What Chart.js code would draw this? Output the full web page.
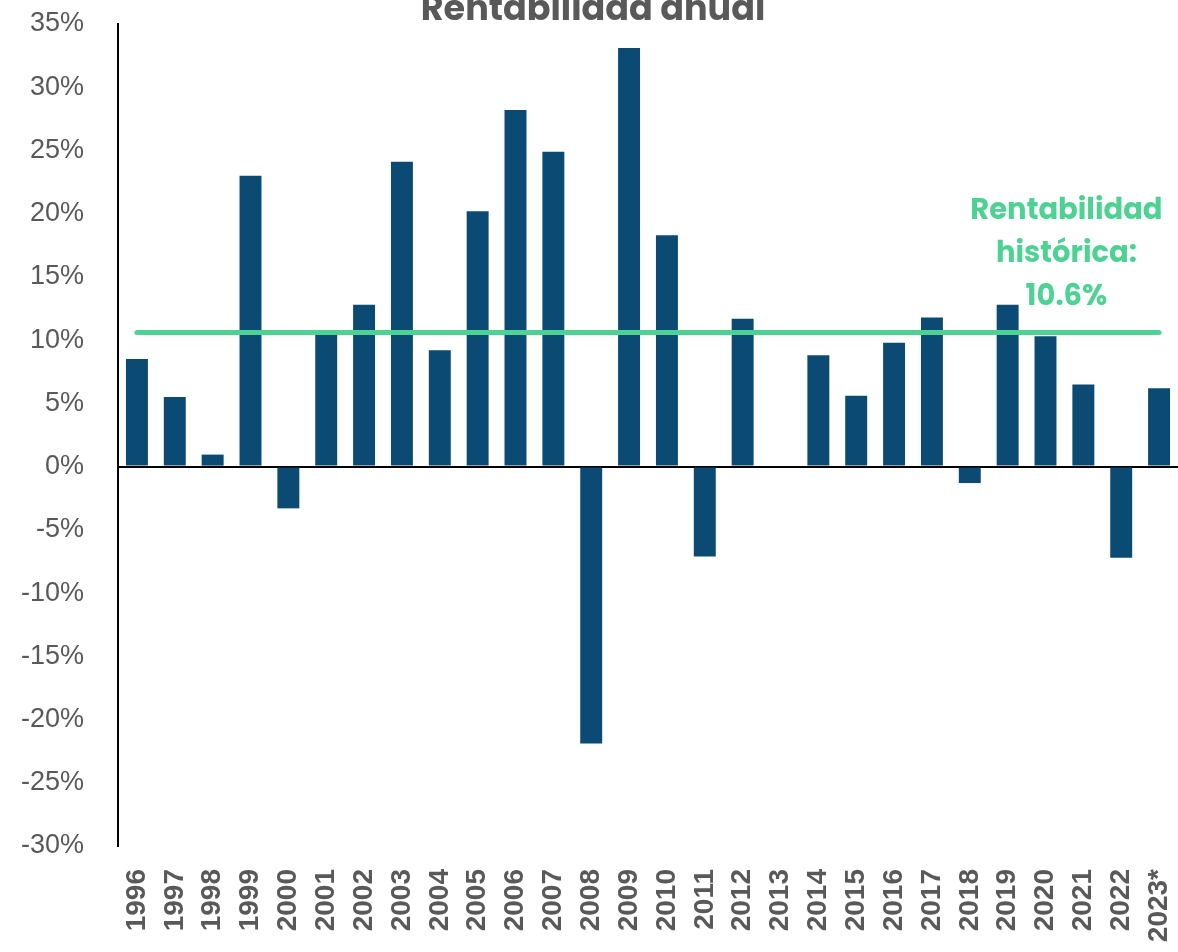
<!DOCTYPE html>
<html lang="es">
<head>
  <meta charset="UTF-8">
  <title>Rentabilidad anual</title>
  <style>
    body { margin: 0; background: #ffffff; }
    #wrap { width: 1178px; height: 952px; }
  </style>
</head>
<body>
  <div id="wrap"><canvas id="chart"></canvas></div>

  <script src="https://cdn.jsdelivr.net/npm/chart.js"></script>
  <script>
    // data
    const years = ['1996', '1997', '1998', '1999', '2000', '2001', '2002', '2003', '2004', '2005',
                   '2006', '2007', '2008', '2009', '2010', '2011', '2012', '2013', '2014', '2015',
                   '2016', '2017', '2018', '2019', '2020', '2021', '2022', '2023*'];
    const annualReturn = [8.5, 5.5, 0.95, 23.0, -3.3, 10.8, 12.8, 24.1, 9.2, 20.2,
                          28.2, 24.9, -21.9, 33.1, 18.3, -7.1, 11.7, 0, 8.8, 5.6,
                          9.8, 11.8, -1.3, 12.8, 10.3, 6.5, -7.2, 6.2];
    const historicalAvg = 10.6;
    const avgLine = years.map(() => historicalAvg);
    const yTicks = { min: -30, max: 35, step: 5 };
    const avgLabel = ['Rentabilidad', 'histórica:', historicalAvg.toFixed(1) + '%'];

    const GREEN = '#4dd294';
    const NAVY = '#0a4a73';
    const GREY = '#595959';
    const headFont = 'Poppins, Inter, "Open Sans", sans-serif';

    // title (cut off at the top) and the green note
    const textPlugin = {
      id: 'texts',
      afterDraw(chart) {
        const ctx = chart.ctx;
        const x = chart.scales.x;
        ctx.save();
        ctx.textAlign = 'center';
        ctx.textBaseline = 'alphabetic';
        ctx.fillStyle = GREY;
        ctx.font = 'bold 35px ' + headFont;
        ctx.fillText('Rentabilidad anual', 593, 20);

        ctx.fillStyle = GREEN;
        ctx.font = 'bold 29px ' + headFont;
        const cx = (x.getPixelForValue(24) + x.getPixelForValue(25)) / 2 + 2;
        avgLabel.forEach((t, i) => ctx.fillText(t, cx, 219 + i * 43));
        ctx.restore();
      }
    };

    new Chart(document.getElementById('chart'), {
      data: {
        labels: years,
        datasets: [
          {
            type: 'line',
            data: avgLine,
            borderColor: GREEN,
            borderWidth: 5,
            borderCapStyle: 'round',
            pointRadius: 0,
            order: 0
          },
          {
            type: 'bar',
            data: annualReturn,
            backgroundColor: NAVY,
            categoryPercentage: 1,
            barPercentage: 0.58,
            order: 1
          }
        ]
      },
      options: {
        responsive: true,
        maintainAspectRatio: false,
        animation: false,
        layout: { padding: { top: 24, right: 0, left: 0, bottom: 0 } },
        plugins: {
          legend: { display: false },
          tooltip: { enabled: false }
        },
        scales: {
          x: {
            grid: { display: false },
            border: { display: false },
            ticks: {
              autoSkip: false,
              minRotation: 90,
              maxRotation: 90,
              padding: 15,
              color: GREY,
              font: { family: '"Liberation Sans", Arial, sans-serif', size: 28, weight: 'bold' }
            },
            afterFit(axis) {
              axis.height = 106;
              axis.paddingLeft = 0;
              axis.paddingRight = 0;
            }
          },
          y: {
            min: yTicks.min,
            max: yTicks.max,
            border: { display: true, color: '#000', width: 2 },
            grid: {
              drawTicks: false,
              lineWidth: 2,
              color: c => (c.tick && c.tick.value === 0 ? '#000' : 'transparent')
            },
            ticks: {
              stepSize: yTicks.step,
              padding: 34,
              color: GREY,
              font: { family: '"Liberation Sans", Arial, sans-serif', size: 27 },
              callback: v => v + '%'
            },
            afterFit(axis) {
              axis.width = 118;
              axis.paddingTop = 0;
              axis.paddingBottom = 0;
            }
          }
        }
      },
      plugins: [textPlugin]
    });
  </script>
</body>
</html>
